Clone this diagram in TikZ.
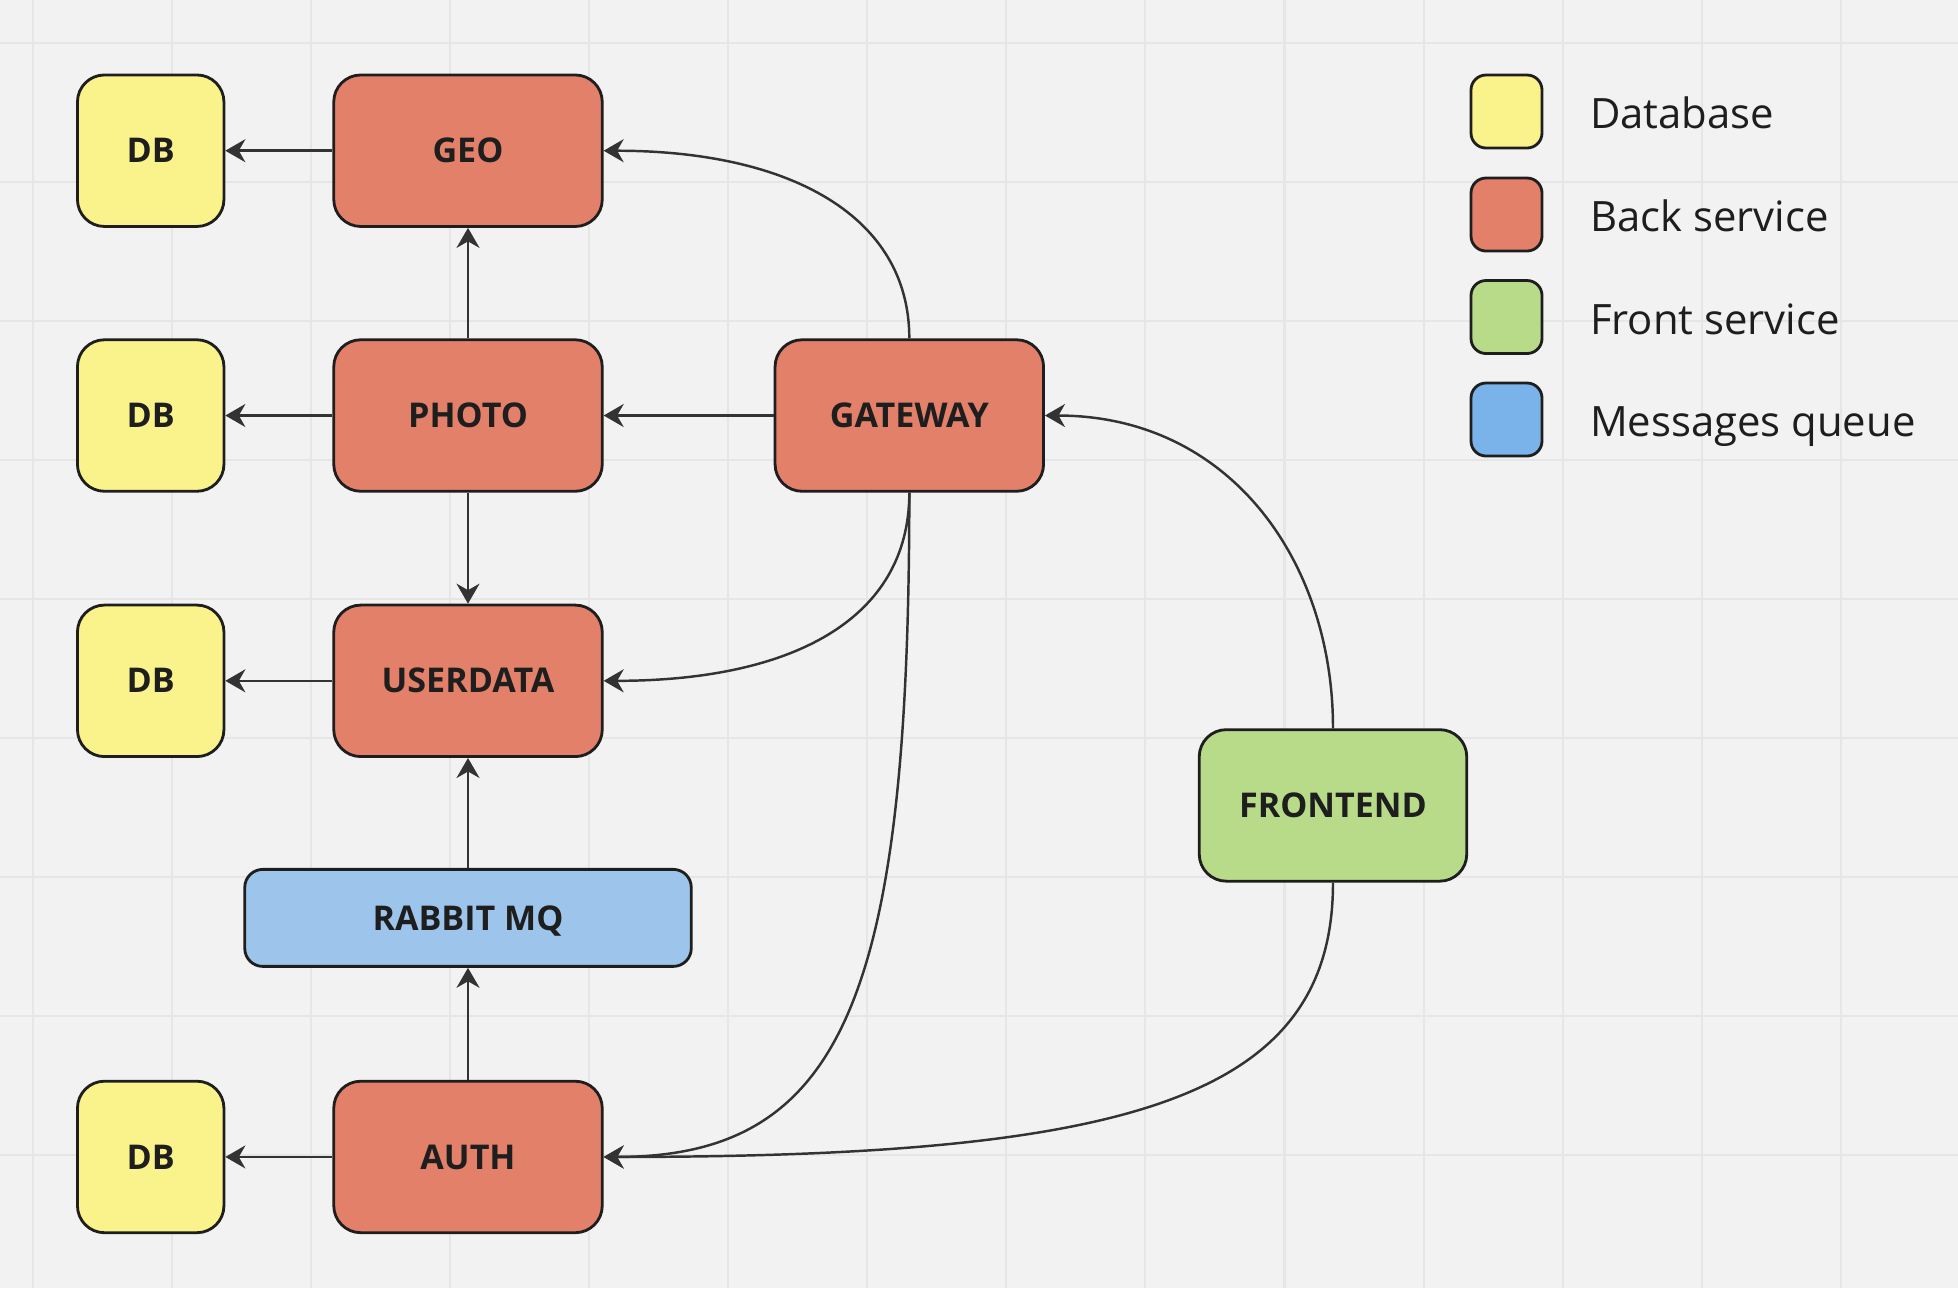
\documentclass[tikz,border=0pt]{standalone}
\usepackage{fontspec}
\setmainfont{Open Sans}
\usetikzlibrary{arrows.meta,positioning}
\definecolor{dbyellow}{HTML}{FAF28A}
\definecolor{backred}{HTML}{E3806A}
\definecolor{frontgreen}{HTML}{B8DB8A}
\definecolor{mqblue}{HTML}{9DC5EC}
\definecolor{keyblue}{HTML}{7AB2EA}
\definecolor{board}{HTML}{F2F2F2}
\definecolor{gridline}{HTML}{E6E6E6}
\definecolor{ink}{HTML}{1E1E1E}
\definecolor{wire}{HTML}{333333}

\begin{document}
\begin{tikzpicture}[x=0.1mm, y=0.1mm, node distance=1.07cm,
  box/.style={draw=ink, line width=0.8pt, rounded corners=2.7mm, inner sep=0pt, text=ink,
    font=\bfseries\fontsize{9.7}{11}\selectfont, text height=6.9pt, text depth=0pt},
  db/.style={box, fill=dbyellow, minimum width=14.65mm, minimum height=15.15mm},
  back/.style={box, fill=backred, minimum width=26.85mm, minimum height=15.15mm},
  front/.style={box, fill=frontgreen, minimum width=26.75mm, minimum height=15.15mm},
  queue/.style={box, fill=mqblue, rounded corners=1.8mm, minimum width=44.65mm, minimum height=9.7mm},
  key/.style={draw=ink, line width=0.8pt, rounded corners=1.5mm, minimum width=7.1mm, minimum height=7.3mm},
  keytext/.style={inner sep=0pt, text=ink, font=\fontsize{11.9}{14}\selectfont, text height=8.5pt, text depth=0pt, yshift=-0.25mm},
  arr/.style={-{Stealth[length=2mm, width=2.3mm]}, line width=0.7pt, draw=wire}]
% board and grid
\fill[board] (0,0) rectangle (1958,-1288);
\useasboundingbox (0,0) rectangle (1958,-1288);
\foreach \gx in {0,...,13}
  \draw[gridline, line width=0.6pt] ({32.6+139.1*\gx},0) -- ++(0,-1288);
\foreach \gy in {0,...,8}
  \draw[gridline, line width=0.6pt] (0,{-43.3-139*\gy}) -- ++(1958,0);
% services
\node[db] (db1) at (150.7,-150.7) {DB};
\node[back, right=of db1] (geo) {GEO};
\node[db, below=1.105cm of db1] (db2) {DB};
\node[back, right=of db2] (photo) {PHOTO};
\node[db, below=1.11cm of db2] (db3) {DB};
\node[back, right=of db3] (userdata) {USERDATA};
\node[queue, below=1.10cm of userdata] (rabbit) {RABBIT MQ};
\node[back, below=1.12cm of rabbit] (auth) {AUTH};
\node[db, left=of auth] (db4) {DB};
\node[back, right=1.70cm of photo] (gateway) {GATEWAY};
\node[front] (frontend) at (1333,-805.4) {FRONTEND};
% legend
\node[key, fill=dbyellow] (kdb) at (1506.5,-111.5) {};
\node[key, fill=backred] (kback) at (1506.5,-214.5) {};
\node[key, fill=frontgreen] (kfront) at (1506.5,-317) {};
\node[key, fill=keyblue] (kqueue) at (1506.5,-419.5) {};
\node[keytext, right=4.6mm of kdb] (ldb) {Database};
\node[keytext, right=4.6mm of kback] (lback) {Back service};
\node[keytext, right=4.6mm of kfront] (lfront) {Front service};
\node[keytext, right=4.6mm of kqueue] (lqueue) {Messages queue};
% connections
\draw[arr] (geo) -- (db1);
\draw[arr] (photo) -- (db2);
\draw[arr] (userdata) -- (db3);
\draw[arr] (auth) -- (db4);
\draw[arr] (photo) -- (geo);
\draw[arr] (photo) -- (userdata);
\draw[arr] (rabbit) -- (userdata);
\draw[arr] (auth) -- (rabbit);
\draw[arr] (gateway) -- (photo);
\draw[arr] (gateway.north) .. controls +(0,122) and +(187,0) .. (geo.east);
\draw[arr] (gateway.south) .. controls +(0,-127) and +(188,0) .. (userdata.east);
\draw[arr] (gateway.south) .. controls +(0,-507) and +(238,0) .. (auth.east);
\draw[arr] (frontend.north) .. controls +(0,167) and +(185,0) .. (gateway.east);
\draw[arr] (frontend.south) .. controls +(0,-216) and +(526,0) .. (auth.east);
\end{tikzpicture}
\end{document}
